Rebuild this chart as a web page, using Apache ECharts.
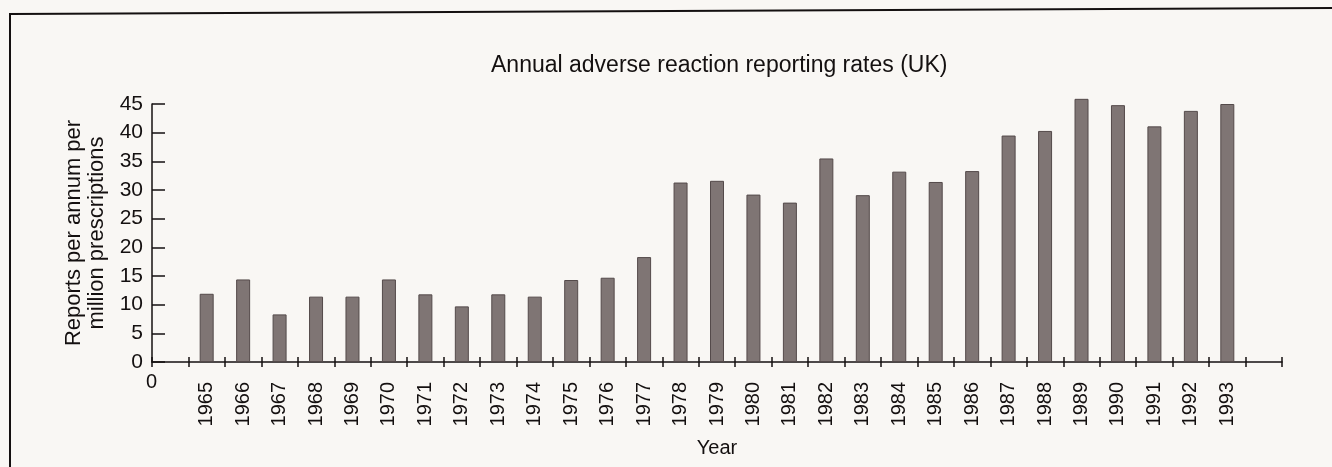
<!DOCTYPE html>
<html>
<head>
<meta charset="utf-8">
<script src="https://cdn.jsdelivr.net/npm/echarts@6/dist/echarts.min.js"></script>
<style>
  html, body { margin: 0; padding: 0; background: #f9f7f4; }
  #chart { width: 1332px; height: 467px; }
</style>
</head>
<body>
<div id="chart"></div>
<script>
// 年份（前后各留一个空档，和原图一样）
const years = ['', '1965', '1966', '1967', '1968', '1969', '1970', '1971', '1972', '1973', '1974',
  '1975', '1976', '1977', '1978', '1979', '1980', '1981', '1982', '1983', '1984',
  '1985', '1986', '1987', '1988', '1989', '1990', '1991', '1992', '1993', '']

// 每百万处方的年报告数
const rates = [null, 11.9, 14.4, 8.3, 11.4, 11.4, 14.4, 11.8, 9.7, 11.8, 11.4,
  14.3, 14.7, 18.3, 31.3, 31.6, 29.2, 27.8, 35.5, 29.1, 33.2,
  31.4, 33.3, 39.5, 40.3, 45.9, 44.8, 41.1, 43.8, 45.0, null]

const yTicks = [0, 5, 10, 15, 20, 25, 30, 35, 40, 45]

const ink = '#141010'
const font = '"Liberation Sans", Arial, sans-serif'

const chart = echarts.init(document.getElementById('chart'))

const option = {
  backgroundColor: '#f9f7f4',
  animation: false,
  title: {
    text: 'Annual adverse reaction reporting rates (UK)',
    left: 486,
    top: 49,
    textStyle: { color: ink, fontSize: 23, fontWeight: 'normal', fontFamily: font }
  },
  grid: {
    left: 152,
    right: 50,
    top: 104,
    bottom: 105
  },
  xAxis: [
    {
      type: 'category',
      data: years,
      name: 'Year',
      nameLocation: 'middle',
      nameGap: 76,
      nameTextStyle: { color: ink, fontSize: 20, fontFamily: font },
      axisLine: { lineStyle: { color: ink, width: 1.5 } },
      axisTick: { show: true, inside: false, length: 5, lineStyle: { color: ink, width: 1.5 } },
      axisLabel: {
        rotate: 90,
        margin: 20,
        interval: 0,
        color: ink,
        fontSize: 20,
        fontFamily: font
      }
    },
    {
      // 第二根轴只用来画穿过轴线的刻度
      type: 'category',
      data: years,
      position: 'bottom',
      axisLine: { show: false },
      axisTick: { show: true, inside: true, length: 5, lineStyle: { color: ink, width: 1.5 } },
      axisLabel: { show: false }
    }
  ],
  yAxis: {
    type: 'value',
    min: yTicks[0],
    max: yTicks[yTicks.length - 1],
    interval: 5,
    name: 'Reports per annum per\nmillion prescriptions',
    nameLocation: 'middle',
    nameGap: 41,
    nameTextStyle: { color: ink, fontSize: 22, fontFamily: font, lineHeight: 23 },
    splitLine: { show: false },
    axisLine: { show: true, lineStyle: { color: ink, width: 1.5 } },
    axisTick: { show: true, inside: true, length: 13, lineStyle: { color: ink, width: 1.5 } },
    axisLabel: { color: ink, fontSize: 21, fontFamily: font, margin: 9 }
  },
  series: [
    {
      type: 'bar',
      data: rates,
      barWidth: 14,
      clip: false,
      itemStyle: {
        color: '#7f7574',
        borderColor: '#544a4a',
        borderWidth: 1
      }
    }
  ],
  graphic: [
    // 原点下方的 0
    {
      type: 'text',
      left: 146,
      top: 372,
      style: { text: '0', fill: ink, fontSize: 20, fontFamily: font }
    },
    // 外框
    {
      type: 'polyline',
      shape: { points: [[10, 467], [10, 14], [1332, 8]] },
      style: { stroke: ink, lineWidth: 2, fill: null }
    }
  ]
}

chart.setOption(option)
</script>
</body>
</html>
